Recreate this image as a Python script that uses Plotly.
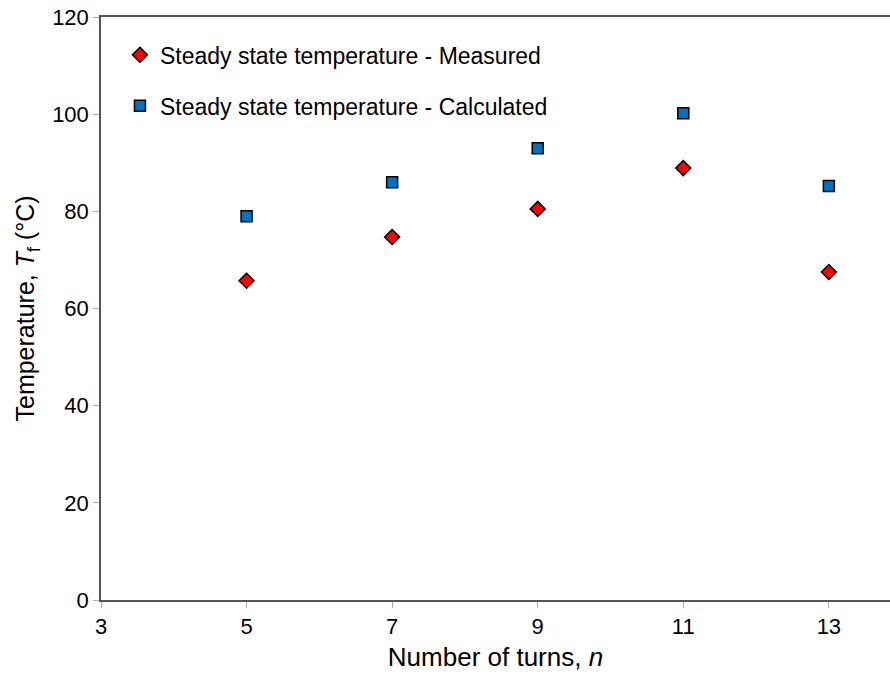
import plotly.graph_objects as go

turns = [5, 7, 9, 11, 13]
measured = [65.7, 74.7, 80.5, 88.9, 67.5]
calculated = [79.0, 86.0, 93.0, 100.2, 85.2]
x_ticks = [3, 5, 7, 9, 11, 13]
y_ticks = [0, 20, 40, 60, 80, 100, 120]

FONT = "Liberation Sans, Arial, sans-serif"

fig = go.Figure()
fig.add_trace(go.Scatter(
    x=turns, y=measured, mode="markers",
    name="Steady state temperature - Measured", legendgroup="a",
    marker=dict(symbol="diamond", size=11.5, color="#FF0000",
                line=dict(color="black", width=1.5)),
))
fig.add_trace(go.Scatter(
    x=turns, y=calculated, mode="markers",
    name="Steady state temperature - Calculated", legendgroup="b",
    marker=dict(symbol="square", size=11, color="#0070C0",
                line=dict(color="black", width=1.5)),
))

fig.update_layout(
    width=890, height=677,
    margin=dict(l=101, r=0, t=17, b=77),
    plot_bgcolor="white", paper_bgcolor="white",
    font=dict(family=FONT, size=22, color="black"),
    showlegend=True,
    legend=dict(x=0.024, y=0.972, xanchor="left", yanchor="top",
                bgcolor="rgba(0,0,0,0)", font=dict(size=23, family=FONT, color="black"),
                traceorder="grouped", tracegroupgap=18, itemwidth=30),
    xaxis=dict(range=[3, 13.84], tickvals=x_ticks, showgrid=False, zeroline=False,
               showline=True, linecolor="#555555", linewidth=1.5, mirror=True,
               ticks="outside", ticklen=6, tickcolor="#aaaaaa",
               tickfont=dict(size=22, family=FONT, color="black"),
               title=dict(text="Number of turns, <i>n</i>", font=dict(size=26, family=FONT, color="black"), standoff=10)),
    yaxis=dict(range=[0, 120], tickvals=y_ticks, showgrid=False, zeroline=False,
               showline=True, linecolor="#555555", linewidth=1.5,
               ticks="outside", ticklen=6, tickcolor="#aaaaaa",
               tickfont=dict(size=22, family=FONT, color="black"),
               title=dict(text="Temperature, <i>T</i><sub>f</sub> (°C)", font=dict(size=25, family=FONT, color="black"), standoff=10)),
)

fig.write_html("out.html")
